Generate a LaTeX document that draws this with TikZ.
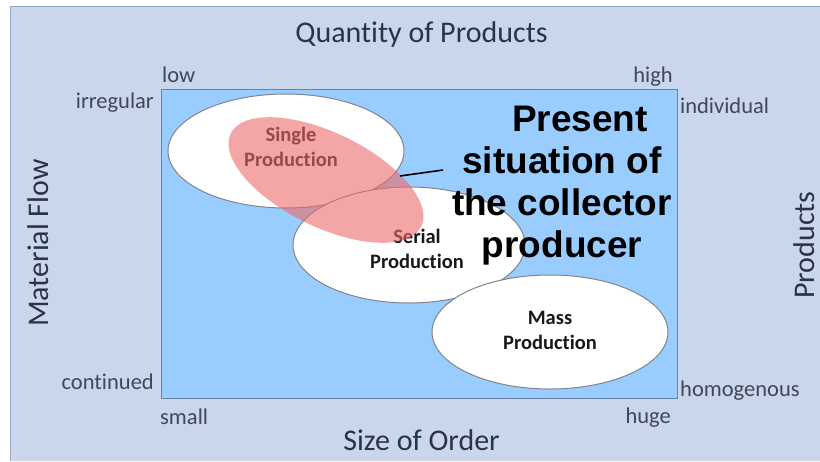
\documentclass[tikz,border=0pt]{standalone}
\usepackage{fontspec}
\setmainfont{Carlito}[Ligatures=NoCommon]
\newfontfamily\arialfont{Liberation Sans}
\usepackage{tikz}
\usetikzlibrary{positioning}

\definecolor{panelbg}{RGB}{201,214,236}
\definecolor{panelline}{RGB}{150,168,198}
\definecolor{fieldbg}{RGB}{153,204,255}
\definecolor{fieldline}{RGB}{105,130,168}
\definecolor{axistext}{RGB}{43,52,70}
\definecolor{ovalline}{RGB}{128,132,140}
\definecolor{marker}{RGB}{238,105,105}

\begin{document}
\begin{tikzpicture}[x=1pt, y=-1pt, inner sep=0pt,
        axis/.style={font=\fontsize{30}{30}\selectfont, text=axistext},
        tick/.style={font=\fontsize{22.5}{22.5}\selectfont, text=axistext!90!white},
        oval/.style={draw=ovalline, line width=1pt, fill=white},
        ovaltext/.style={font=\bfseries\fontsize{20.5}{25}\selectfont, align=center, text=black!90}]
            \useasboundingbox[fill=white] (0,0) rectangle (820,461);
            \fill[panelbg] (10,6) rectangle (820,461);
            \draw[panelline, line width=1pt] (10,461) -- (10,6) -- (820,6);
            \draw[fieldline, line width=1pt, fill=fieldbg] (161,89) rectangle (677,398);
            \draw[oval] (286,151) ellipse (118 and 57);
            \draw[oval] (409,245) ellipse (116 and 58);
            \draw[oval] (550,332) ellipse (118 and 57);
            \node[ovaltext] (single) at (291,147) {Single\\Production};
            \node[ovaltext] (serial) at (417,249) {Serial\\Production};
            \node[ovaltext] (mass) at (550,330) {Mass\\Production};
            \fill[marker, opacity=0.6, rotate around={-26:(326,180)}] (326,180) ellipse (106 and 47);
            \node[align=center, font=\arialfont\bfseries\fontsize{37}{42}\selectfont] (present) at (562,186)
                {\hspace*{36pt}Present\\situation of\\the collector\\producer};
            \coordinate (tip) at (400,176);
            \coordinate (tail) at (443,170);
            \draw[line width=1.6pt] (tip) -- (tail);
            \node[axis, anchor=base] (quantity) at (421.5,42) {Quantity of Products};
            \node[axis, anchor=base] (order) at (421.5,450) {Size of Order};
            \node[axis, anchor=base, rotate=90] (flow) at (48,243) {Material Flow};
            \node[axis, anchor=base, rotate=90] (products) at (814,245) {Products};
            \node[tick, anchor=base west] (low) at (162,82) {low};
            \node[tick, anchor=base east] (high) at (673,82) {high};
            \node[tick, anchor=base east] (irregular) at (154,108) {irregular};
            \node[tick, anchor=base west] (individual) at (680,113) {individual};
            \node[tick, anchor=base east] (continued) at (154,389) {continued};
            \node[tick, anchor=base west] (homogenous) at (680,396) {homogenous};
            \node[tick, anchor=base west] (small) at (160,424) {small};
            \node[tick, anchor=base east] (huge) at (671,423) {huge};
        \end{tikzpicture}
\end{document}
